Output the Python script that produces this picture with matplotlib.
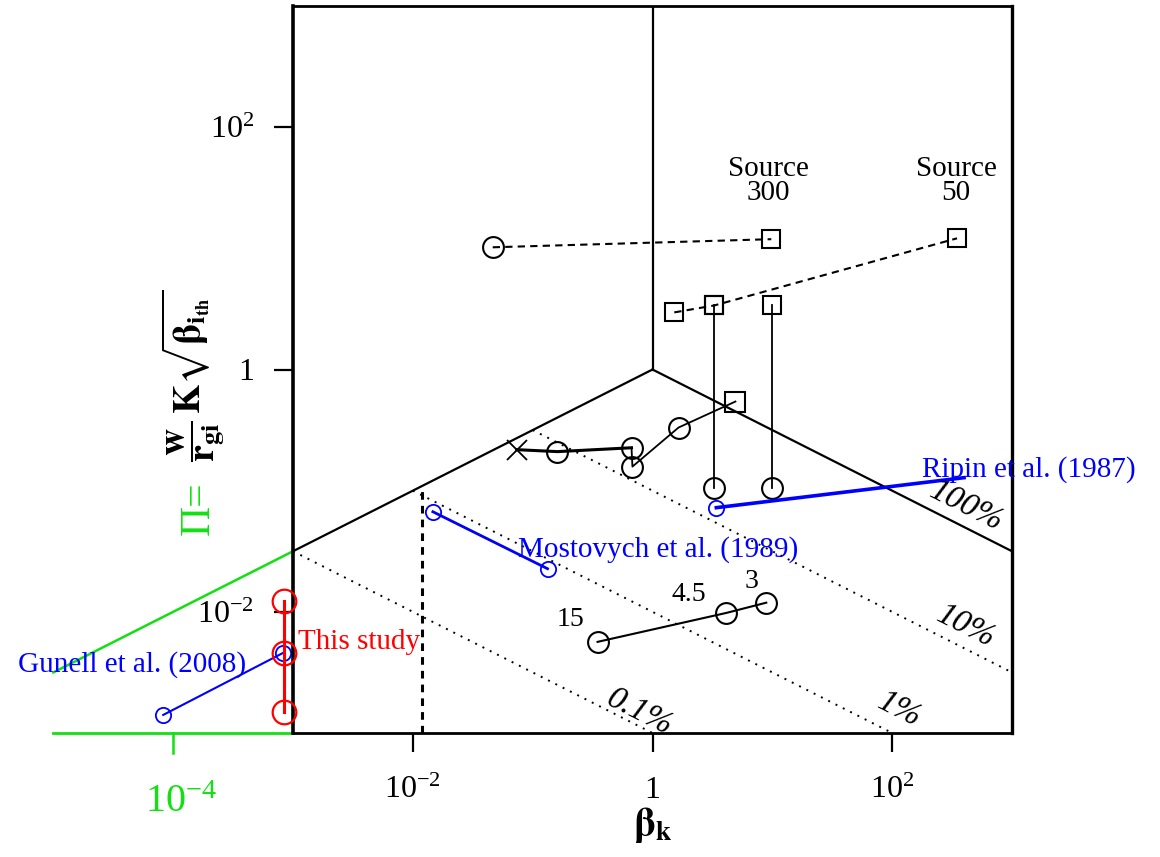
import numpy as np
import matplotlib
matplotlib.use("Agg")
import matplotlib.pyplot as plt
from matplotlib.ticker import NullLocator
from matplotlib.transforms import blended_transform_factory

plt.rcParams["font.family"] = ["Liberation Serif", "DejaVu Serif"]
plt.rcParams["mathtext.fontset"] = "stix"

GREEN = "#12e012"
BLUE = "#0000ff"
RED = "#ff0000"

# ---- regime map data (beta_k, Pi) ----
src300_beta = [0.0464, 9.8]
src300_pi = [10.2, 11.9]

src50_beta = [1.52, 3.29, 348.0]
src50_pi = [2.96, 3.38, 12.1]

drop_beta = [3.29, 10.0]
drop_pi_top = [3.38, 3.38]
drop_pi_bottom = [0.106, 0.106]

chain_beta = [0.0736, 0.161, 0.668, 0.68, 1.65, 4.92]
chain_pi = [0.218, 0.21, 0.226, 0.158, 0.332, 0.544]

shots_beta = [0.348, 4.14, 8.9]
shots_pi = [0.00565, 0.0098, 0.0119]
shots_labels = ["15", "4.5", "3"]

mostovych_beta = [0.0147, 0.133]
mostovych_pi = [0.067, 0.0227]

ripin_beta = [3.41, 398.0]
ripin_pi = [0.0724, 0.128]

gunell_beta = [8.26e-5, 8.26e-4]
gunell_pi = [0.00141, 0.00458]

study_beta = [8.4e-4, 8.4e-4, 8.4e-4]
study_pi = [0.0123, 0.00458, 0.00149]

# efficiency contours Pi = level / sqrt(beta)
contour_levels = [0.1, 0.01, 0.001]
contour_texts = ["10%", "1%", "0.1%"]
contour_text_pos = [(414.0, 0.00751), (114.0, 0.00155), (0.78, 0.00149)]

vline_beta = 0.012

fig = plt.figure(figsize=(11.6, 8.57), dpi=100)
ax = fig.add_axes([293 / 1160, 1 - 733 / 857, 719 / 1160, 727 / 857])
ax.set_xscale("log")
ax.set_yscale("log")
ax.set_xlim(1e-3, 1e3)
ax.set_ylim(1e-3, 1e3)

for s in ax.spines.values():
    s.set_linewidth(2.0)
ax.spines["left"].set_linewidth(2.6)
ax.spines["right"].set_linewidth(2.4)

# regime boundaries
b = np.array([1e-3, 1.0])
ax.plot(b, np.sqrt(b), color="black", lw=1.6)
b = np.array([1.0, 1e3])
ax.plot(b, 1 / np.sqrt(b), color="black", lw=1.6)
ax.plot([1.0, 1.0], [1.0, 1e3], color="black", lw=1.6)

# efficiency contours (dotted)
for lev in contour_levels:
    b_end = min((lev / 1e-3) ** 2, 1e3)
    bb = np.array([lev, b_end])
    ax.plot(bb, lev / np.sqrt(bb), color="black", lw=1.4, ls=(0, (1, 3.2)))

# vertical dashed line
ax.plot([vline_beta, vline_beta], [1e-3, np.sqrt(vline_beta)], color="black",
        lw=2.2, ls=(0, (2.5, 2)))

# rotation angle for slope -1/2 in display space
p0 = ax.transData.transform((1.0, 1.0))
p1 = ax.transData.transform((100.0, 0.1))
ang = np.degrees(np.arctan2(p1[1] - p0[1], p1[0] - p0[0]))

ax.text(414.0, 0.0738, "100%", fontsize=24, style="italic", rotation=ang,
        ha="center", va="center", rotation_mode="anchor")
for (xt, yt), t in zip(contour_text_pos, contour_texts):
    ax.text(xt, yt, t, fontsize=24, style="italic", rotation=ang,
            ha="center", va="center", rotation_mode="anchor")

# source runs
mk = dict(mfc="none", mec="black", mew=1.5)
ax.plot(src300_beta, src300_pi, color="black", lw=1.5, ls=(0, (3.5, 2.5)))
ax.plot(src300_beta[0], src300_pi[0], "o", ms=15, **mk)
ax.plot(src300_beta[1], src300_pi[1], "s", ms=13, **mk)
ax.plot(src50_beta, src50_pi, color="black", lw=1.5, ls=(0, (3.5, 2.5)))
ax.plot(src50_beta, src50_pi, "s", ms=13, ls="none", **mk)
for xb, yt, yb in zip(drop_beta, drop_pi_top, drop_pi_bottom):
    ax.plot([xb, xb], [yt, yb], color="black", lw=1.3)
    ax.plot(xb, yt, "s", ms=13, **mk)
    ax.plot(xb, yb, "o", ms=15, **mk)

ax.text(9.26, 35.8, "Source\n300", fontsize=21, ha="center", va="center",
        linespacing=0.9)
ax.text(341.0, 35.8, "Source\n50", fontsize=21, ha="center", va="center",
        linespacing=0.9)

# chain of runs
ax.plot(chain_beta[:3], chain_pi[:3], color="black", lw=2.2)
ax.plot(chain_beta[2:], chain_pi[2:], color="black", lw=1.3)
ax.plot(chain_beta[0], chain_pi[0], "x", ms=15, mec="black", mew=1.3)
ax.plot(chain_beta[1:5], chain_pi[1:5], "o", ms=15, ls="none", **mk)
ax.plot(chain_beta[5], chain_pi[5], "s", ms=14, **mk)

# shots
ax.plot(shots_beta, shots_pi, color="black", lw=1.5)
ax.plot(shots_beta, shots_pi, "o", ms=15, ls="none", **mk)
for xb, yp, t, dx, dy in zip(shots_beta, shots_pi, shots_labels,
                             [-27, -38, -15], [22, 18, 21]):
    ax.annotate(t, (xb, yp), xytext=(dx, dy), textcoords="offset pixels",
                fontsize=20, ha="center", va="center")

# other experiments
bk = dict(mfc="none", mec=BLUE, mew=1.3)
ax.plot(mostovych_beta, mostovych_pi, color=BLUE, lw=2.0)
ax.plot(mostovych_beta, mostovych_pi, "o", ms=11, ls="none", **bk)
ax.text(0.075, 0.0325, "Mostovych et al. (1989)", color=BLUE, fontsize=21,
        ha="left", va="center")

ax.plot(ripin_beta, ripin_pi, color=BLUE, lw=2.6, clip_on=False)
ax.plot(ripin_beta[0], ripin_pi[0], "o", ms=11, **bk)
ax.text(178.0, 0.149, "Ripin et al. (1987)", color=BLUE, fontsize=21,
        ha="left", va="center")

ax.plot(gunell_beta, gunell_pi, color=BLUE, lw=1.5, clip_on=False)
ax.plot(gunell_beta, gunell_pi, "o", ms=11, ls="none", clip_on=False, **bk)
ax.text(5.1e-6, 0.00365, "Gunell et al. (2008)", color=BLUE, fontsize=21,
        ha="left", va="center")

ax.plot(study_beta, study_pi, color=RED, lw=2.2, clip_on=False, zorder=5)
ax.plot(study_beta, study_pi, "o", ms=17, ls="none", mfc="none", mec=RED,
        mew=1.6, clip_on=False, zorder=5)
ax.text(1.1e-3, 0.00565, "This study", color=RED, fontsize=21, ha="left",
        va="center")

# low-beta extension
ax.plot([1e-5, 1e-3], [10 ** -2.5, 10 ** -1.5], color=GREEN, lw=1.8,
        clip_on=False)
ax.plot([1e-5, 1e-3], [1e-3, 1e-3], color=GREEN, lw=2.0, clip_on=False)
bt = blended_transform_factory(ax.transData, ax.transAxes)
ax.plot([1e-4, 1e-4], [0, -0.027], color=GREEN, lw=1.8, transform=bt,
        clip_on=False)
ax.text(1.17e-4, -0.095, r"$\mathregular{10^{-4}}$", color=GREEN, fontsize=29,
        ha="center", va="center", transform=bt)

# ticks
ax.xaxis.set_minor_locator(NullLocator())
ax.yaxis.set_minor_locator(NullLocator())
ax.set_xticks([1e-2, 1, 1e2])
ax.set_xticklabels([r"$\mathregular{10^{-2}}$", "1", r"$\mathregular{10^{2}}$"])
ax.set_yticks([1e-2, 1, 1e2])
ax.set_yticklabels([r"$\mathregular{10^{-2}}$", "1", r"$\mathregular{10^{2}}$"])
ax.tick_params(which="major", length=14, width=1.6, direction="out",
               labelsize=23)
ax.tick_params(axis="x", pad=17)
ax.tick_params(axis="y", pad=14)

ax.set_xlabel(r"$\mathbf{\beta}_{\mathbf{k}}$", fontsize=28, labelpad=0)

fig.text(199 / 1160, 1 - 508 / 857, "\u03a0=", color=GREEN, fontsize=30,
         rotation=90, ha="center", va="center")
fig.text(193 / 1160, 1 - 376 / 857,
         r"$\dfrac{\mathbf{w}}{\mathbf{r}_{\mathbf{gi}}}\,\mathbf{K}"
         r"\sqrt{\mathbf{\beta}_{\mathbf{i}_{\mathbf{th}}}}$",
         fontsize=27, rotation=90, ha="center", va="center")

fig.savefig("out.png", dpi=100)
